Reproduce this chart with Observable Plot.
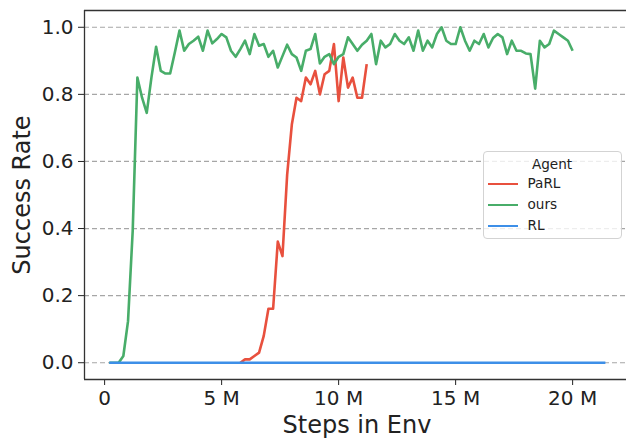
<!DOCTYPE html>
<html><head><meta charset="utf-8">
<script src="https://cdn.jsdelivr.net/npm/d3@7"></script>
<script src="https://cdn.jsdelivr.net/npm/@observablehq/plot@0.6"></script>
<style>
html,body{margin:0;padding:0;background:#fff;overflow:hidden;}
#wrap{position:relative;width:626px;height:438px;overflow:hidden;font-family:"DejaVu Sans",sans-serif;color:#222;}
#wrap svg{position:absolute;left:0;top:0;overflow:hidden;}
.lbl{position:absolute;white-space:nowrap;font-family:"DejaVu Sans",sans-serif;color:#222;}
.legend{position:absolute;left:482.5px;top:150.5px;width:139px;height:88px;box-sizing:border-box;border:1px solid #d3d3d3;border-radius:4px;background:rgba(255,255,255,0.8);font-size:13.6px;color:#222;}
.legend .title{position:absolute;left:0;width:100%;top:4px;text-align:center;}
.legend .row{position:absolute;left:4px;height:20px;}
.legend .sw{position:absolute;left:0;top:9px;width:30px;height:2.6px;}
.legend .tx{position:absolute;left:40px;top:1px;}
</style></head><body><div id="wrap"></div>
<script>
// ---- data (steps in millions) ----
const agents = ["PaRL", "ours", "RL"];
const agentColors = ["#e8503e", "#48ad69", "#3d8fe8"];

const parlSteps = [5.8,6.0,6.2,6.4,6.6,6.8,7.0,7.2,7.4,7.6,7.8,8.0,8.2,8.4,8.6,8.8,9.0,9.2,9.4,9.6,9.8,10.0,10.2,10.4,10.6,10.8,11.0,11.2];
const parlRate  = [0,0.01,0.01,0.02,0.03,0.08,0.161,0.161,0.361,0.318,0.56,0.71,0.79,0.78,0.85,0.83,0.87,0.80,0.86,0.87,0.95,0.78,0.91,0.82,0.85,0.79,0.79,0.89];

const oursSteps = [0.2,0.4,0.6,0.8,1.0,1.2,1.4,1.6,1.8,2.0,2.2,2.4,2.6,2.8,3.0,3.2,3.4,3.6,3.8,4.0,
  4.2,4.4,4.6,4.8,5.0,5.2,5.4,5.6,5.8,6.0,6.2,6.4,6.6,6.8,7.0,7.2,7.4,7.6,7.8,8.0,
  8.2,8.4,8.6,8.8,9.0,9.2,9.4,9.6,9.8,10.0,10.2,10.4,10.6,10.8,11.0,11.2,11.4,11.6,11.8,12.0,
  12.2,12.4,12.6,12.8,13.0,13.2,13.4,13.6,13.8,14.0,14.2,14.4,14.6,14.8,15.0,15.2,15.4,15.6,15.8,16.0,
  16.2,16.4,16.6,16.8,17.0,17.2,17.4,17.6,17.8,18.0,18.2,18.4,18.6,18.8,19.0,19.2,19.4,19.6,19.8,20.0];
const oursRate = [0,0,0,0.02,0.124,0.393,0.85,0.79,0.745,0.85,0.942,0.87,0.862,0.862,0.925,0.99,0.93,0.95,0.96,0.972,
  0.93,0.99,0.952,0.965,0.98,0.97,0.93,0.912,0.935,0.96,0.92,0.98,0.945,0.95,0.912,0.93,0.88,0.914,0.948,0.92,
  0.91,0.87,0.93,0.935,0.98,0.892,0.912,0.92,0.89,0.912,0.92,0.97,0.95,0.93,0.948,0.96,0.98,0.89,0.96,0.94,
  0.95,0.98,0.96,0.95,0.97,0.93,0.99,0.93,0.96,0.94,0.98,1.0,0.96,0.95,0.95,1.0,0.96,0.93,0.96,0.95,
  0.98,0.94,0.968,0.98,0.97,0.92,0.96,0.93,0.93,0.922,0.92,0.817,0.96,0.94,0.95,0.99,0.98,0.97,0.96,0.93];

const rlSteps = [0.2, 21.4];
const rlRate  = [0, 0];

const xTicks = [0, 5, 10, 15, 20];
const xTickLabels = ["0", "5 M", "10 M", "15 M", "20 M"];
const yTicks = [0, 0.2, 0.4, 0.6, 0.8, 1.0];
const yTickLabels = ["0.0", "0.2", "0.4", "0.6", "0.8", "1.0"];
const xLabel = "Steps in Env";
const yLabel = "Success Rate";
const legendTitle = "Agent";

// ---- build table ----
const rows = [];
parlSteps.forEach((s, i) => rows.push({agent: "PaRL", step: s, rate: parlRate[i]}));
oursSteps.forEach((s, i) => rows.push({agent: "ours", step: s, rate: oursRate[i]}));
rlSteps.forEach((s, i) => rows.push({agent: "RL", step: s, rate: rlRate[i]}));

const xDom = [-0.86, 22.46];
const yDom = [-0.05, 1.05];

const chart = Plot.plot({
  width: 626,
  height: 438,
  marginLeft: 84,
  marginRight: 0,
  marginTop: 10,
  marginBottom: 59,
  style: {fontFamily: "DejaVu Sans", fontSize: "20px", color: "#222", background: "white", overflow: "hidden"},
  x: {domain: xDom, range: [84, 629.7], ticks: xTicks, tickFormat: d => xTickLabels[xTicks.indexOf(d)], tickSize: 6, tickPadding: 5, label: null},
  y: {domain: yDom, ticks: yTicks, tickFormat: d => yTickLabels[yTicks.findIndex(t => Math.abs(t - d) < 1e-9)], tickSize: 6, tickPadding: 5, label: null},
  color: {domain: agents, range: agentColors},
  marks: [
    Plot.ruleY(yTicks, {stroke: "#a6a6a6", strokeWidth: 1.2, strokeDasharray: "5,3"}),
    Plot.line(rows, {x: "step", y: "rate", z: "agent", stroke: "agent", strokeWidth: 2.6, strokeLinejoin: "round", strokeLinecap: "butt"}),
    Plot.ruleX([xDom[0]], {stroke: "#333", strokeWidth: 1.3}),
    Plot.ruleY(yDom, {stroke: "#333", strokeWidth: 1.3})
  ]
});
const wrap = document.getElementById("wrap");
wrap.appendChild(chart);

// axis labels
const xl = document.createElement("div");
xl.className = "lbl";
xl.textContent = xLabel;
xl.style.fontSize = "24px";
xl.style.left = "357px";
xl.style.top = "411px";
xl.style.transform = "translateX(-50%)";
wrap.appendChild(xl);

const yl = document.createElement("div");
yl.className = "lbl";
yl.textContent = yLabel;
yl.style.fontSize = "24px";
yl.style.left = "22px";
yl.style.top = "194.5px";
yl.style.transform = "translate(-50%,-50%) rotate(-90deg)";
wrap.appendChild(yl);

// legend
const lg = document.createElement("div");
lg.className = "legend";
const t = document.createElement("div");
t.className = "title";
t.textContent = legendTitle;
lg.appendChild(t);
agents.forEach((a, i) => {
  const r = document.createElement("div");
  r.className = "row";
  r.style.top = (22 + i * 21) + "px";
  const sw = document.createElement("div");
  sw.className = "sw";
  sw.style.background = agentColors[i];
  const tx = document.createElement("div");
  tx.className = "tx";
  tx.textContent = a;
  r.appendChild(sw); r.appendChild(tx);
  lg.appendChild(r);
});
wrap.appendChild(lg);
</script>
</body></html>
